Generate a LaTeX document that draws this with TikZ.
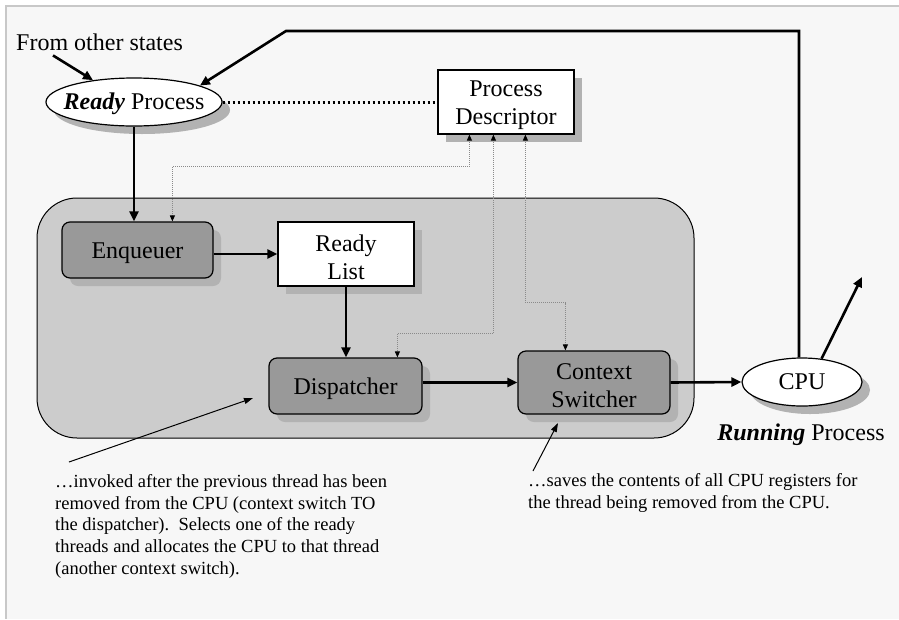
\documentclass[tikz,border=0pt]{standalone}
\usepackage{fontspec}
\setmainfont{Liberation Serif}
\usetikzlibrary{arrows.meta,shapes.geometric,shadows,calc}
\definecolor{bgc}{HTML}{F7F7F7}
\definecolor{framec}{HTML}{C8C8C8}
\definecolor{contc}{HTML}{CCCCCC}
\definecolor{boxc}{HTML}{999999}
\definecolor{shadc}{HTML}{B2B2B2}
\definecolor{dotc}{HTML}{8A8A8A}
\newcommand{\tallstrut}{\rule{0pt}{23pt}}
\begin{document}
\begin{tikzpicture}[x=1pt,y=-1pt,
  big/.style={font=\fontsize{24}{28}\selectfont},
  small/.style={font=\fontsize{18.5}{21.8}\selectfont},
  shad/.style={drop shadow={shadow xshift=8pt,shadow yshift=-8pt,fill=shadc,opacity=1}},
  procbox/.style={draw,line width=1.2pt,fill=boxc,rounded corners=8pt,shad,big,inner sep=0pt,align=center},
  whitebox/.style={draw,line width=1.2pt,fill=white,shad,big,inner sep=0pt,align=center},
  ell/.style={ellipse,draw,line width=1.2pt,fill=white,shad,inner sep=0pt},
  thickarrow/.style={line width=2.6pt,-{Triangle[length=10pt,width=9pt]}},
  thinarrow/.style={line width=1pt,-{Triangle[length=9pt,width=6pt]}},
  dotarrow/.style={dotc,line width=1pt,dash pattern=on 1pt off 1pt,
    {Triangle[length=6pt,width=5pt,color=black]}-{Triangle[length=6pt,width=5pt,color=black]}},
  bigdots/.style={line width=3pt,dash pattern=on 2.5pt off 2.5pt}
]
\useasboundingbox (0,0) rectangle (899,619);
\fill[white] (0,0) rectangle (899,619);
\fill[bgc] (6,6) rectangle (899,619);
\draw[framec,line width=1.5pt] (899,6) -- (6,6) -- (6,619);

% container
\node[draw,line width=1pt,fill=contc,rounded corners=40pt,minimum width=657pt,minimum height=240pt,inner sep=0pt] (sys) at (365.5,318) {};

% nodes
\node[big,anchor=base west,inner sep=0pt] (from) at (16,50) {From other states};
\node[ell,minimum width=176pt,minimum height=48pt] (ready) at (134,102) {};
\node[big,inner sep=0pt] (readytxt) at (134,104) {\textbf{\textit{Ready}} Process};
\node[whitebox,minimum width=136pt,minimum height=64pt] (pd) at (506,102) {\tallstrut Process\\Descriptor};
\node[procbox,minimum width=151pt,minimum height=56pt] (enq) at (137.5,250) {\tallstrut Enqueuer};
\node[whitebox,minimum width=136pt,minimum height=64pt] (rl) at (346,254) {\tallstrut Ready\\List};
\node[procbox,minimum width=153pt,minimum height=56pt] (disp) at (345.5,386) {\tallstrut Dispatcher};
\node[procbox,minimum width=152pt,minimum height=63pt] (cs) at (594,382.5) {\tallstrut Context\\Switcher};
\node[ell,big,minimum width=120pt,minimum height=48pt] (cpu) at (802,382) {CPU};
\node[big,anchor=base,inner sep=0pt] (running) at (801,440) {\textbf{\textit{Running}} Process};

\node[small,anchor=north west,inner sep=0pt,align=left] (note1) at (55,474)
  {…invoked after the previous thread has been\\
   removed from the CPU (context switch TO\\
   the dispatcher).\ \ Selects one of the ready\\
   threads and allocates the CPU to that thread\\
   (another context switch).};
\node[small,anchor=north west,inner sep=0pt,align=left] (note2) at (528,473)
  {…saves the contents of all CPU registers for\\
   the thread being removed from the CPU.};

% coordinates
\coordinate (topl) at (286,31);
\coordinate (cpuout) at (862,277);
\coordinate (n1a) at (69,462);
\coordinate (n1b) at (253,398);
\coordinate (n2a) at (533,471);
\coordinate (n2b) at (558,423);

% connectors
\draw[thickarrow] ($(from.south west)+(37,5)$) -- (ready.152);
\draw[thickarrow] (cpu.97) |- (topl) -- (ready.14);
\draw[thickarrow] (cpu.50) -- (cpuout);
\draw[bigdots] (ready.east) -- (pd.west);
\draw[thickarrow] (ready.south) -- (ready.south |- enq.north);
\draw[thickarrow] (rl.west -| enq.east) -- (rl.west);
\draw[thickarrow] (rl.south) -- (rl.south |- disp.north);
\draw[thickarrow] (cs.west -| disp.east) -- (cs.west);
\draw[thickarrow] (cs.east) -- (cpu.west);

\draw[dotarrow] ($(pd.south west)+(32,0)$) -- ++(0,32) -| ($(enq.north west)+(111,0)$);
\draw[dotarrow] ($(pd.south west)+(56,0)$) -- ++(0,199) -| ($(disp.north west)+(129,0)$);
\draw[dotarrow] ($(pd.south west)+(88,0)$) -- ++(0,168) -| ($(cs.north west)+(48,0)$);

\draw[thinarrow] (n1a) -- (n1b);
\draw[thinarrow] (n2a) -- (n2b);
\end{tikzpicture}
\end{document}
